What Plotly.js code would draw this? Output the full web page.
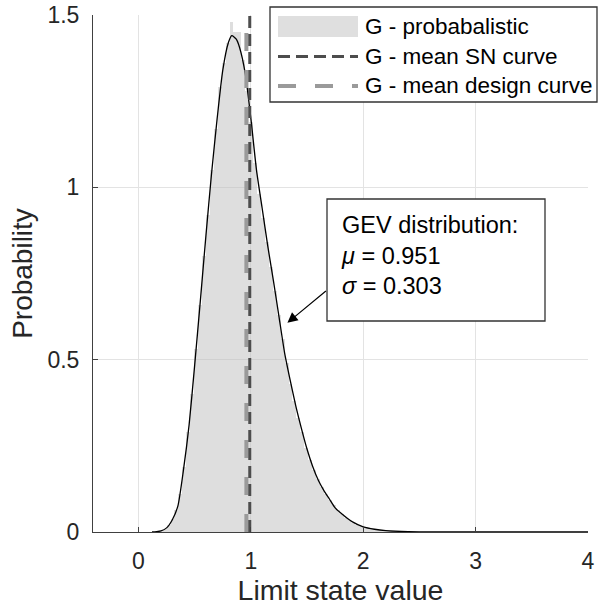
<!DOCTYPE html>
<html>
<head>
<meta charset="utf-8">
<script src="https://cdn.plot.ly/plotly-3.0.1.min.js"></script>
<style>html,body{margin:0;padding:0;background:#fff;}#chart{width:598px;height:614px;}</style>
</head>
<body>
<div id="chart"></div>
<script>
// ---- Data ----
// Histogram of the limit state G (normalised as probability density)
const binStart = 0.18;
const binWidth = 0.035;
const histHeights = [
  0.004, 0.010, 0.020, 0.037, 0.065, 0.11, 0.19, 0.29, 0.40, 0.53,
  0.66, 0.80, 0.92, 1.05, 1.17, 1.29, 1.36, 1.42, 1.48, 1.45,
  1.45, 1.37, 1.28, 1.19, 1.07, 0.98, 0.91, 0.84, 0.77, 0.70,
  0.63, 0.56, 0.49, 0.43, 0.38, 0.33, 0.29, 0.245, 0.21, 0.18,
  0.155, 0.13, 0.11, 0.093, 0.077, 0.063, 0.052, 0.042, 0.034, 0.027,
  0.021, 0.017, 0.013, 0.010, 0.008, 0.006, 0.005, 0.004, 0.003, 0.002,
  0.002, 0.001
];
// Fitted GEV density curve
const gevX = [0.12, 0.16, 0.20, 0.25, 0.30, 0.35, 0.40, 0.45, 0.50, 0.55,
              0.60, 0.65, 0.70, 0.75, 0.80, 0.83, 0.87, 0.90, 0.95, 1.00,
              1.05, 1.10, 1.15, 1.20, 1.25, 1.30, 1.35, 1.40, 1.45, 1.50,
              1.55, 1.60, 1.65, 1.70, 1.75, 1.80, 1.90, 2.00, 2.10, 2.20,
              2.40, 2.70, 3.00, 4.00];
const gevY = [0.000, 0.001, 0.003, 0.012, 0.035, 0.075, 0.18, 0.31, 0.485, 0.67,
              0.86, 1.04, 1.20, 1.34, 1.42, 1.44, 1.43, 1.405, 1.33, 1.20,
              1.05, 0.94, 0.83, 0.73, 0.625, 0.52, 0.44, 0.365, 0.30, 0.24,
              0.19, 0.15, 0.12, 0.095, 0.07, 0.055, 0.03, 0.015, 0.008, 0.004,
              0.001, 0.0002, 0.0, 0.0];
const meanSN = 0.99;       // G - mean SN curve
const meanDesign = 0.96;   // G - mean design curve
const gevMu = "0.951";
const gevSigma = "0.303";
const legendLabels = ["G - probabalistic", "G - mean SN curve", "G - mean design curve"];
const xTicks = [0, 1, 2, 3, 4];
const yTicks = [0, 0.5, 1, 1.5];
const xRange = [-0.405, 4];
const yRange = [0, 1.5];

// ---- Styles ----
const FONT = "'Liberation Sans', Arial, Helvetica, sans-serif";
const histColor = "rgba(190,190,190,0.5)";
const snColor = "#4d4d4d";
const designColor = "#9a9a9a";
const snDash = "12px,6px";
const designDash = "18px,19px";
const axisColor = "#404040";

const histX = histHeights.map((_, i) => binStart + (i + 0.5) * binWidth);

const traces = [
  {type: "bar", x: histX, y: histHeights, width: binWidth,
   marker: {color: histColor, line: {width: 0}}, showlegend: false, hoverinfo: "skip"},
  {type: "scatter", mode: "lines", x: gevX, y: gevY,
   line: {color: "#000", width: 1.3, shape: "spline", smoothing: 0.6}, showlegend: false},
  {type: "scatter", mode: "lines", x: [meanDesign, meanDesign], y: yRange,
   line: {color: designColor, width: 4, dash: designDash}, showlegend: false},
  {type: "scatter", mode: "lines", x: [meanSN, meanSN], y: yRange,
   line: {color: snColor, width: 3, dash: snDash}, showlegend: false}
];

// plot area geometry (px) for paper conversions
const L = 93, R = 10, T = 15, B = 82, W = 598, H = 614;
const pw = W - L - R, ph = H - T - B;
const px = v => (v - L) / pw;
const py = v => (H - B - v) / ph;

const shapes = [
  // legend box
  {type: "rect", xref: "paper", yref: "paper", x0: px(270), x1: px(597), y0: py(102), y1: py(7),
   line: {color: "#333", width: 1.3}, fillcolor: "#fff", layer: "above"},
  {type: "rect", xref: "paper", yref: "paper", x0: px(278), x1: px(358), y0: py(37), y1: py(16),
   line: {width: 0}, fillcolor: "#dfdfdf", layer: "above"},
  {type: "line", xref: "paper", yref: "paper", x0: px(278), x1: px(358), y0: py(56.5), y1: py(56.5),
   line: {color: snColor, width: 3, dash: snDash}, layer: "above"},
  {type: "line", xref: "paper", yref: "paper", x0: px(278), x1: px(358), y0: py(86), y1: py(86),
   line: {color: designColor, width: 4, dash: designDash}, layer: "above"},
  // annotation text box
  {type: "rect", xref: "paper", yref: "paper", x0: px(327), x1: px(545), y0: py(321), y1: py(199),
   line: {color: "#333", width: 1.3}, fillcolor: "#fff", layer: "above"}
];

const annFont = {family: FONT, size: 22.5, color: "#000"};
const annotations = [
  {xref: "paper", yref: "paper", x: px(363), y: py(27), xanchor: "left", yanchor: "middle",
   text: legendLabels[0], showarrow: false, font: annFont},
  {xref: "paper", yref: "paper", x: px(363), y: py(56.5), xanchor: "left", yanchor: "middle",
   text: legendLabels[1], showarrow: false, font: annFont},
  {xref: "paper", yref: "paper", x: px(363), y: py(86), xanchor: "left", yanchor: "middle",
   text: legendLabels[2], showarrow: false, font: annFont},
  {xref: "paper", yref: "paper", x: px(339), y: py(256), xanchor: "left", yanchor: "middle",
   align: "left", showarrow: false, font: {family: FONT, size: 23.5, color: "#000"},
   text: "GEV distribution:<br><i>μ</i> = " + gevMu + "<br><i>σ</i> = " + gevSigma},
  {xref: "x", yref: "y", x: 1.325, y: 0.607, text: "", showarrow: true,
   ax: 40, ay: -33, arrowhead: 2, arrowsize: 1.7, arrowwidth: 1.2, arrowcolor: "#000", standoff: 0}
];

const axisCommon = {
  showline: true, linecolor: axisColor, linewidth: 1, mirror: false,
  ticks: "inside", ticklen: 5, tickwidth: 1, tickcolor: axisColor,
  showgrid: true, gridcolor: "#e3e3e3", gridwidth: 1, zeroline: false,
  tickfont: {family: FONT, size: 23, color: "#262626"},
  automargin: false, fixedrange: true
};

const layout = {
  width: W, height: H,
  margin: {l: L, r: R, t: T, b: B, pad: 0},
  paper_bgcolor: "#fff", plot_bgcolor: "#fff",
  bargap: 0,
  showlegend: false,
  xaxis: Object.assign({}, axisCommon, {
    range: xRange, tickvals: xTicks, ticktext: xTicks.map(String),
    ticklabelstandoff: 8,
    title: {text: "Limit state value", font: {family: FONT, size: 28.5, color: "#262626"}, standoff: 4}
  }),
  yaxis: Object.assign({}, axisCommon, {
    range: yRange, tickvals: yTicks, ticktext: yTicks.map(String),
    ticklabelstandoff: 8,
    title: {text: "Probability", font: {family: FONT, size: 28, color: "#262626"}, standoff: 6}
  }),
  shapes: shapes,
  annotations: annotations
};

Plotly.newPlot("chart", traces, layout, {displayModeBar: false, staticPlot: true});
</script>
</body>
</html>
